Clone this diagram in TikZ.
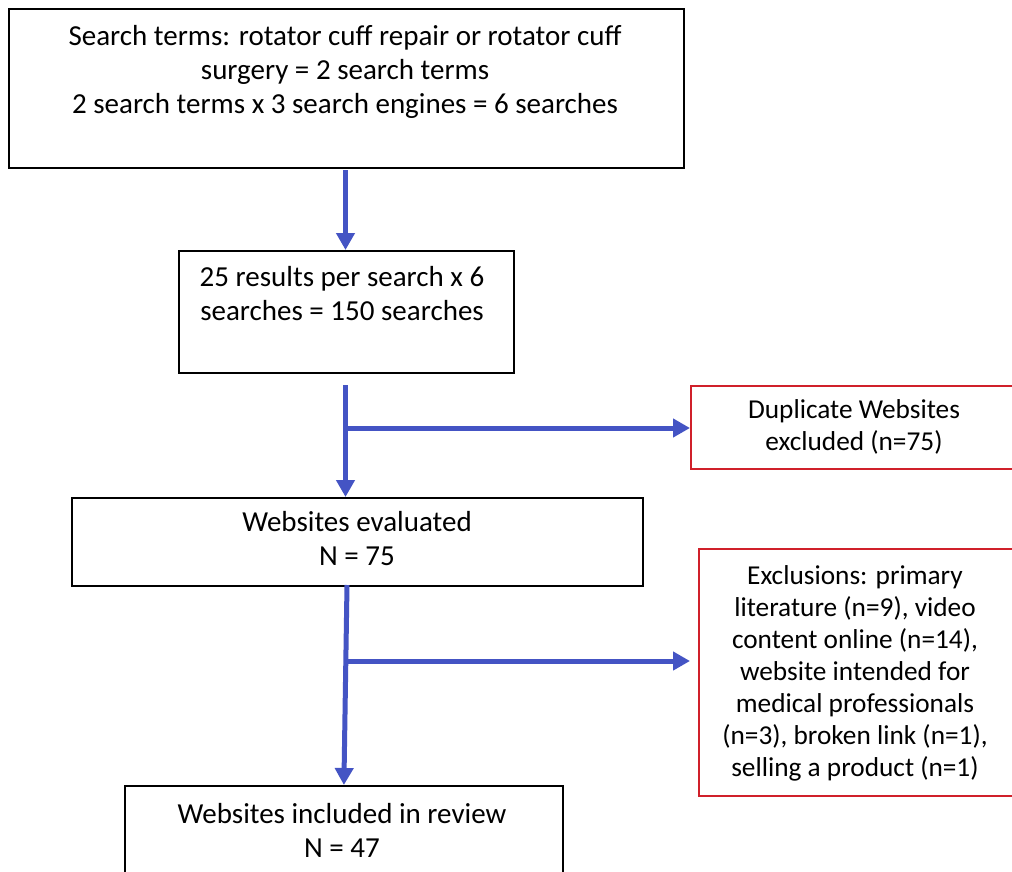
\documentclass[tikz,border=0pt]{standalone}
\usepackage{fontspec}
\setmainfont{Carlito}
\usetikzlibrary{arrows.meta}
\definecolor{arrblue}{RGB}{68,84,196}
\definecolor{boxred}{RGB}{208,32,42}
\begin{document}
\begin{tikzpicture}[x=1pt,y=-1pt,
  box/.style={draw=black, line width=1.8pt, rectangle, inner sep=0pt, anchor=north west},
  redbox/.style={draw=boxred, line width=1.8pt, rectangle, inner sep=0pt, anchor=north west},
  txt/.style={font=\fontsize{29}{34}\selectfont, align=center, inner sep=0pt},
  rtxt/.style={font=\fontsize{27.3}{32}\selectfont, align=center, inner sep=0pt},
  flow/.style={draw=arrblue, line width=5pt, -{Triangle[length=17pt,width=18pt]}}]
\useasboundingbox (0,0) rectangle (1012,872);
\fill[white] (0,0) rectangle (1012,872);
% boxes
\node[box, minimum width=675pt, minimum height=159pt] (b1) at (8,8) {};
\node[box, minimum width=335pt, minimum height=122pt] (b2) at (178,250) {};
\node[box, minimum width=571pt, minimum height=88pt] (b3) at (71,497) {};
\node[box, minimum width=438pt, minimum height=100pt] (b4) at (124,785) {};
\node[redbox, minimum width=326pt, minimum height=83pt] (d1) at (690,385) {};
\node[redbox, minimum width=318pt, minimum height=247pt] (e1) at (698,548) {};
% texts
\node[txt] (t1) at (345,72) {Search terms: rotator cuff repair or rotator cuff\\surgery = 2 search terms\\2 search terms x 3 search engines = 6 searches};
\node[txt] (t2) at (342,294) {25 results per search x 6\\searches = 150 searches};
\node[txt] (t3) at (357,539) {Websites evaluated\\N = 75};
\node[txt] (t4) at (342,830) {Websites included in review\\N = 47};
\node[rtxt] (td) at (854,427) {Duplicate Websites\\excluded (n=75)};
\node[rtxt] (te) at (855,673) {Exclusions: primary\\literature (n=9), video\\content online (n=14),\\website intended for\\medical professionals\\(n=3), broken link (n=1),\\selling a product (n=1)};
% connectors
\coordinate (s1) at (345.5,170);
\coordinate (s2) at (345.5,385);
\coordinate (s3) at (347,585);
\coordinate (j1) at (348,428);
\coordinate (j2) at (348,661);
\draw[flow] (s1) -- (s1 |- b2.north);
\draw[flow] (s2) -- (s2 |- b3.north);
\draw[flow] (s3) -- (b4.north);
\draw[flow] (j1) -- (j1 -| d1.west);
\draw[flow, shorten >=8pt] (j2) -- (j2 -| e1.west);
\end{tikzpicture}
\end{document}
